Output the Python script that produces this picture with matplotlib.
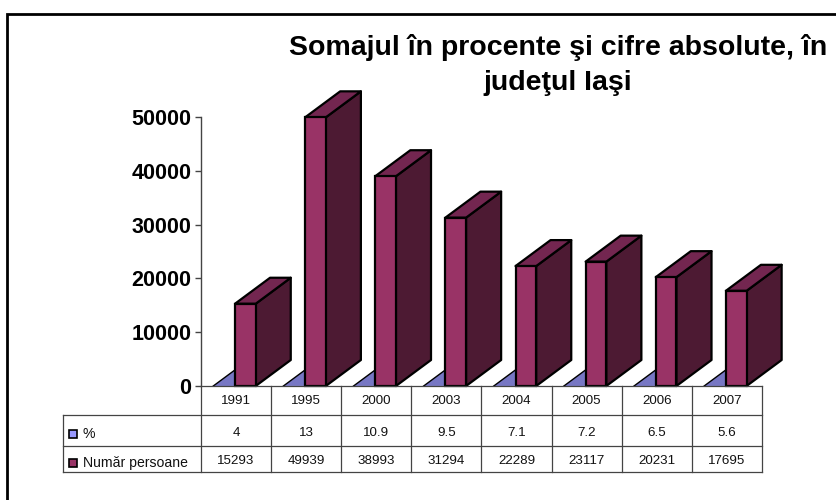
import matplotlib
matplotlib.use("Agg")
import matplotlib.pyplot as plt
from matplotlib.patches import Polygon, Rectangle
from matplotlib.lines import Line2D

years = ["1991", "1995", "2000", "2003", "2004", "2005", "2006", "2007"]
percent = [4, 13, 10.9, 9.5, 7.1, 7.2, 6.5, 5.6]
persons = [15293, 49939, 38993, 31294, 22289, 23117, 20231, 17695]
percent_labels = ["4", "13", "10.9", "9.5", "7.1", "7.2", "6.5", "5.6"]
row_labels = ["%", "Număr persoane"]
yticks = [0, 10000, 20000, 30000, 40000, 50000]
title = "Somajul în procente şi cifre absolute, în\njudeţul Iaşi"

plt.rcParams["font.family"] = ["Liberation Sans", "DejaVu Sans"]
W, H = 837, 500
fig = plt.figure(figsize=(W / 100, H / 100), dpi=100)
def fx(x): return x / W
def fy(y): return 1 - y / H

X0, X1, Y0, Y1 = 201, 762, 386, 117
ax = fig.add_axes([fx(X0), fy(Y0), (X1 - X0) / W, (Y0 - Y1) / H])
ax.set_xlim(0, 8)
ax.set_ylim(0, 50000)
ax.patch.set_alpha(0)
for s in ["top", "right", "bottom"]:
    ax.spines[s].set_visible(False)
ax.spines["left"].set_color("#444444")
ax.spines["left"].set_linewidth(1.0)
ax.set_xticks([])
ax.set_yticks(yticks)
ax.tick_params(axis="y", length=4.3, width=1, color="#444444", pad=2.6)
for t in ax.get_yticklabels():
    t.set_fontsize(15.5)
    t.set_fontweight("bold")

DX, DY = 0.5, 4830
BW = 0.295
def bar3d(x, w, h, front, top, side, z, edge=True):
    ec = "black"
    lw = 1.6 if edge else 0
    ax.add_patch(Polygon([(x + w, 0), (x + w + DX, DY), (x + w + DX, h + DY), (x + w, h)],
                         fc=side, ec=ec, lw=lw, zorder=z, clip_on=False, joinstyle="round"))
    ax.add_patch(Polygon([(x, h), (x + w, h), (x + w + DX, h + DY), (x + DX, h + DY)],
                         fc=top, ec=ec, lw=lw, zorder=z, clip_on=False, joinstyle="round"))
    ax.add_patch(Rectangle((x, 0), w, h, fc=front, ec=ec, lw=lw, zorder=z, clip_on=False))

for i in range(len(years)):
    x = i + 0.175
    # % series is nearly flat on the persons scale
    bar3d(x, BW, percent[i], "#7777c4", "#7777c4", "#5a5a9a", 3, edge=False)
    ax.plot([x, x + DX * 0.6], [0, DY * 0.6], color="black", lw=1.0, zorder=3, clip_on=False)
    bar3d(i + 0.485, BW, persons[i], "#993366", "#732650", "#4d1a33", 4 + (len(years) - i) * 0.01)

# Data table
rows = [386, 415, 445.5, 471.5]
TL = 63
col = "#444444"
lines = [((TL, X1), (rows[1], rows[1])),
         ((TL, X1), (rows[2], rows[2])),
         ((TL, X1), (rows[3], rows[3])),
         ((TL, TL), (rows[1], rows[3])),
         ((X0, X0), (rows[0], rows[3])),
         ((X0, X1), (rows[0], rows[0]))]
cw = (X1 - X0) / len(years)
for i in range(1, len(years) + 1):
    lines.append(((X0 + i * cw, X0 + i * cw), (rows[0], rows[3])))
for xs, ys in lines:
    fig.add_artist(Line2D([fx(v) for v in xs], [fy(v) for v in ys], color=col, lw=0.9))

cols = [years, percent_labels, [str(v) for v in persons]]
centers = [401, 433, 461]
for r, vals in enumerate(cols):
    for i, v in enumerate(vals):
        fig.text(fx(X0 + (i + 0.5) * cw), fy(centers[r]), v, fontsize=9.6, ha="center", va="center", color="#111111")

for lab, y, c in zip(row_labels, [434.5, 463], ["#9999ff", "#993366"]):
    fig.add_artist(Rectangle((fx(69.5), fy(y + 3.5)), 8 / W, 8 / H, fc=c, ec="black", lw=1.2,
                             transform=fig.transFigure))
    fig.text(fx(83), fy(y), lab, fontsize=10.1, ha="left", va="center", color="#111111")

fig.text(fx(558), fy(90), title, fontsize=20.5, fontweight="bold", ha="center", va="baseline",
         multialignment="center", linespacing=1.44)

# Outer frame: left and top edges only, the rest runs off the picture
fig.add_artist(Line2D([fx(7.5), fx(7.5), fx(837)], [fy(500), fy(13.5), fy(13.5)], color="black", lw=2.0,
                      solid_joinstyle="miter"))
fig.savefig("out.png", dpi=100)
